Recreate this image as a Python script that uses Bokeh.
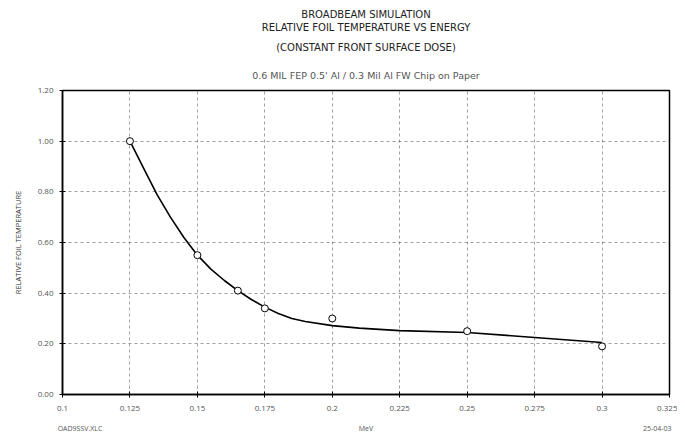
from bokeh.plotting import figure
from bokeh.models import FixedTicker, CustomJSTickFormatter, Range1d, Title, LinearAxis
from bokeh.embed import file_html
from bokeh.resources import INLINE

# ---- data ----
point_x = [0.125, 0.15, 0.165, 0.175, 0.2, 0.25, 0.3]
point_y = [1.00, 0.55, 0.41, 0.34, 0.30, 0.25, 0.19]

curve_x = [0.125, 0.13, 0.135, 0.14, 0.145, 0.15, 0.155, 0.16, 0.165, 0.17, 0.175,
           0.18, 0.185, 0.19, 0.2, 0.21, 0.225, 0.25, 0.275, 0.3]
curve_y = [1.00, 0.895, 0.79, 0.70, 0.62, 0.55, 0.495, 0.45, 0.41, 0.375, 0.345,
           0.32, 0.30, 0.288, 0.272, 0.262, 0.252, 0.245, 0.225, 0.205]

x_ticks = [0.1, 0.125, 0.15, 0.175, 0.2, 0.225, 0.25, 0.275, 0.3, 0.325]
x_tick_labels = ["0.1", "0.125", "0.15", "0.175", "0.2", "0.225", "0.25", "0.275", "0.3", "0.325"]
y_ticks = [0.0, 0.2, 0.4, 0.6, 0.8, 1.0, 1.2]

title_lines = ["BROADBEAM SIMULATION",
               "RELATIVE FOIL TEMPERATURE VS ENERGY",
               "(CONSTANT FRONT SURFACE DOSE)"]
subtitle = "0.6 MIL FEP 0.5' Al / 0.3 Mil Al FW Chip on Paper"
x_label = "MeV"
y_label = "RELATIVE FOIL TEMPERATURE"
foot_left = "OAD9SSV.XLC"
foot_right = "25-04-03"
# positions (in MeV) of the bottom text row: left note, axis name, right note
foot_pos = [0.1065, 0.2125, 0.3205]

FONT = "Open Sans"
TFONT = "DejaVu Sans"

p = figure(width=677, height=435, output_backend="svg", toolbar_location=None,
           x_range=Range1d(0.1, 0.325), y_range=Range1d(0.0, 1.2),
           min_border_left=62, min_border_right=8, min_border_top=90, min_border_bottom=39)
p.background_fill_color = "white"
p.border_fill_color = "white"
p.outline_line_color = "black"
p.outline_line_width = 1.5

# axes
p.xaxis.ticker = FixedTicker(ticks=x_ticks)
p.xaxis.major_label_overrides = {t: l for t, l in zip(x_ticks, x_tick_labels)}
p.yaxis.ticker = FixedTicker(ticks=y_ticks)
p.yaxis.formatter = CustomJSTickFormatter(code="return tick.toFixed(2);")
for ax in (p.xaxis, p.yaxis):
    ax.axis_line_color = "black"
    ax.axis_line_width = 1.5
    ax.major_tick_line_color = "black"
    ax.minor_tick_line_color = None
    ax.major_tick_in = 3
    ax.major_tick_out = 3
    ax.major_label_text_font = FONT
    ax.major_label_text_font_size = "8px"
    ax.major_label_text_color = "#555555"
    ax.axis_label_text_font = FONT
    ax.axis_label_text_font_style = "normal"
    ax.axis_label_text_color = "#333333"
p.xaxis.major_label_standoff = 8
p.yaxis.major_label_standoff = 6
p.yaxis.axis_label = y_label
p.yaxis.axis_label_text_font_size = "7.5px"
p.yaxis.axis_label_standoff = 12

# bottom text row (axis name + file/date notes) as a second, bare axis
foot_axis = LinearAxis(ticker=FixedTicker(ticks=foot_pos),
                       major_label_overrides={foot_pos[0]: foot_left, foot_pos[1]: x_label,
                                              foot_pos[2]: foot_right},
                       axis_line_color=None, major_tick_line_color=None,
                       minor_tick_line_color=None, major_tick_in=0, major_tick_out=0,
                       major_label_standoff=10, major_label_text_font=FONT,
                       major_label_text_font_size="7px", major_label_text_color="#555555")
p.add_layout(foot_axis, "below")

# grid
p.xgrid.ticker = FixedTicker(ticks=x_ticks)
p.ygrid.ticker = FixedTicker(ticks=y_ticks)
for g in (p.xgrid, p.ygrid):
    g.grid_line_color = "#555555"
    g.grid_line_dash = "3 3"
    g.grid_line_width = 0.8
    g.grid_line_alpha = 0.7

# data
p.line(curve_x, curve_y, line_color="black", line_width=1.6)
p.scatter(point_x, point_y, marker="circle", size=7, fill_color="white",
          line_color="black", line_width=1)

# titles: first added is closest to the frame
p.add_layout(Title(text=subtitle, align="center", text_font=TFONT, text_font_size="9.5px",
                   text_font_style="normal", text_color="#555555", standoff=19), "above")
title_standoffs = [12, 1, 0]
for t, s in zip(reversed(title_lines), title_standoffs):
    p.add_layout(Title(text=t, align="center", text_font=TFONT, text_font_size="10px",
                       text_font_style="normal", text_color="#222222", standoff=s), "above")

open("out.html", "w").write(file_html(p, INLINE))
